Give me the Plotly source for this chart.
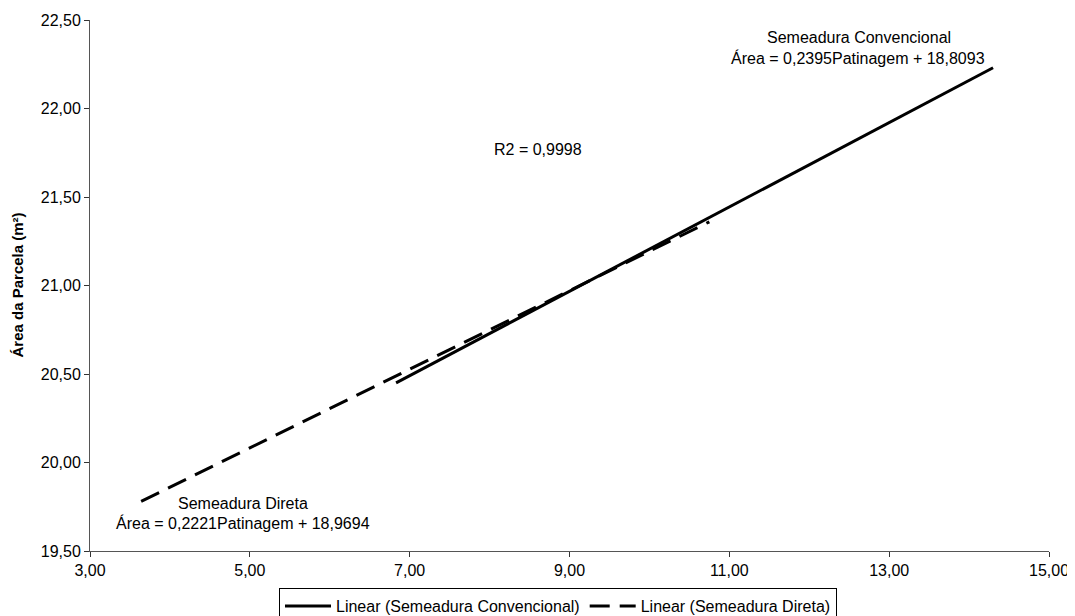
import plotly.graph_objects as go

# Data (trend line endpoints)
conv_x = [6.83, 14.30]
conv_y = [20.45, 22.23]
direta_x = [3.64, 10.75]
direta_y = [19.78, 21.36]

x_ticks = [3, 5, 7, 9, 11, 13, 15]
y_ticks = [19.5, 20.0, 20.5, 21.0, 21.5, 22.0, 22.5]

font_family = "Liberation Sans, Arial, sans-serif"
FS = 16

fig = go.Figure()
fig.add_trace(go.Scatter(
    x=conv_x, y=conv_y, mode="lines",
    name="Linear (Semeadura Convencional)",
    line=dict(color="black", width=3),
))
fig.add_trace(go.Scatter(
    x=direta_x, y=direta_y, mode="lines",
    name="Linear (Semeadura Direta)",
    line=dict(color="black", width=3, dash="20px,10px"),
))

def note(x, y, text):
    fig.add_annotation(x=x, y=y, xref="x", yref="y", text=text, showarrow=False,
                       font=dict(size=FS, color="black", family=font_family))

note(12.62, 22.400, "Semeadura Convencional")
note(12.61, 22.285, "Área = 0,2395Patinagem + 18,8093")
note(8.606, 21.766, "R2 = 0,9998")
note(4.914, 19.771, "Semeadura Direta")
note(4.914, 19.658, "Área = 0,2221Patinagem + 18,9694")

# y axis title
fig.add_annotation(x=0, y=0.5, xref="paper", yref="paper", xshift=-73,
                   text="<b>Área da Parcela (m²)</b>", textangle=-90, showarrow=False,
                   xanchor="center", yanchor="middle",
                   font=dict(size=15, color="black", family=font_family))

fig.update_layout(
    width=1067, height=608,
    margin=dict(l=82, r=26, t=12, b=65, autoexpand=False),
    paper_bgcolor="white", plot_bgcolor="white",
    separators=",.",
    font=dict(family=font_family, size=FS, color="black"),
    showlegend=True,
    legend=dict(orientation="h", x=0.488, y=-0.0697, xanchor="center", yanchor="top",
                bordercolor="black", borderwidth=1, font=dict(size=FS),
                itemwidth=46, tracegroupgap=0),
    xaxis=dict(range=[3, 15], tickvals=x_ticks, tickformat=".2f",
               showgrid=False, zeroline=False, showline=True, linecolor="#555", linewidth=1,
               ticks="outside", ticklen=5, tickcolor="#333",
               tickfont=dict(size=FS)),
    yaxis=dict(range=[19.5, 22.5], tickvals=y_ticks, tickformat=".2f",
               showgrid=False, zeroline=False, showline=True, linecolor="#555", linewidth=1,
               ticks="outside", ticklen=5, tickcolor="#333",
               tickfont=dict(size=FS)),
)

fig.write_html("out.html")
